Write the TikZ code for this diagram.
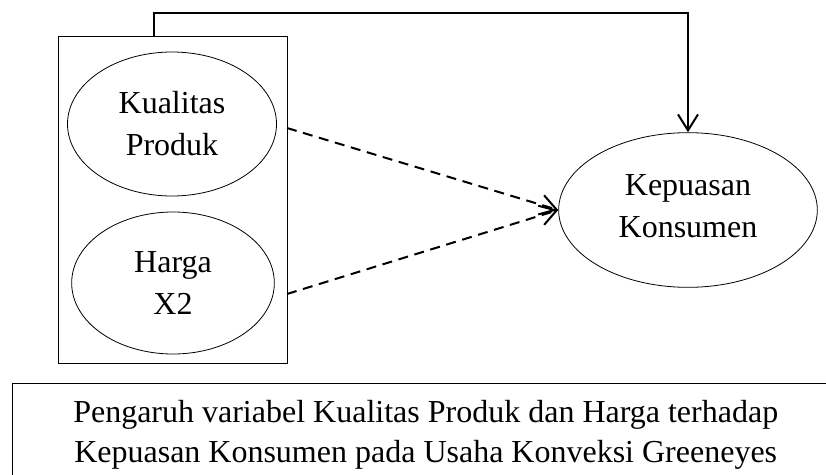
\documentclass[tikz,border=0pt]{standalone}
\usepackage{fontspec}
\setmainfont{Liberation Serif}
\usetikzlibrary{arrows.meta,shapes.geometric}

\begin{document}
\begin{tikzpicture}[x=0.75pt, y=-0.75pt,
    every node/.style={font=\fontsize{24}{31.5}\selectfont, align=center},
    var/.style={draw, ellipse, line width=0.6pt, inner sep=0pt},
    link/.style={line width=1.5pt, -{Straight Barb[length=12pt, width=15pt, line width=1.5pt]}},
    dep/.style={link, dash pattern=on 7.5pt off 5pt}]
    \useasboundingbox (0,0) rectangle (826,475);
    \clip (0,0) rectangle (826,475);

    \node[draw, line width=0.6pt, minimum width=171.75pt, minimum height=245.25pt] (grp) at (172.5,199.5) {};
    \node[var, minimum width=156.75pt, minimum height=108pt] (kp) at (172,124) {Kualitas\\Produk};
    \node[var, minimum width=152pt, minimum height=106.5pt] (hg) at (173,283) {Harga\\X2};
    \node[var, minimum width=194pt, minimum height=116pt] (kk) at (688,210) {};
    \node (kkt) at (688,206) {Kepuasan\\Konsumen};

    \coordinate (t1) at (154,36);
    \coordinate (s1) at (287,128);
    \coordinate (s2) at (287,294);

    \draw[link] (t1) -- ++(0,-23) -| (kk.north);
    \foreach \s in {s1,s2} {
        \draw[dep] (\s) -- (kk.west);
    }

    \node[draw, line width=0.6pt, anchor=north west, minimum width=630pt, minimum height=90pt] (capbox) at (12,383) {};
    \node[anchor=north west, inner sep=0pt, font=\fontsize{24}{30}\selectfont] (cap) at (73,400)
        {Pengaruh variabel Kualitas Produk dan Harga terhadap\\Kepuasan Konsumen pada Usaha Konveksi Greeneyes};
\end{tikzpicture}
\end{document}
